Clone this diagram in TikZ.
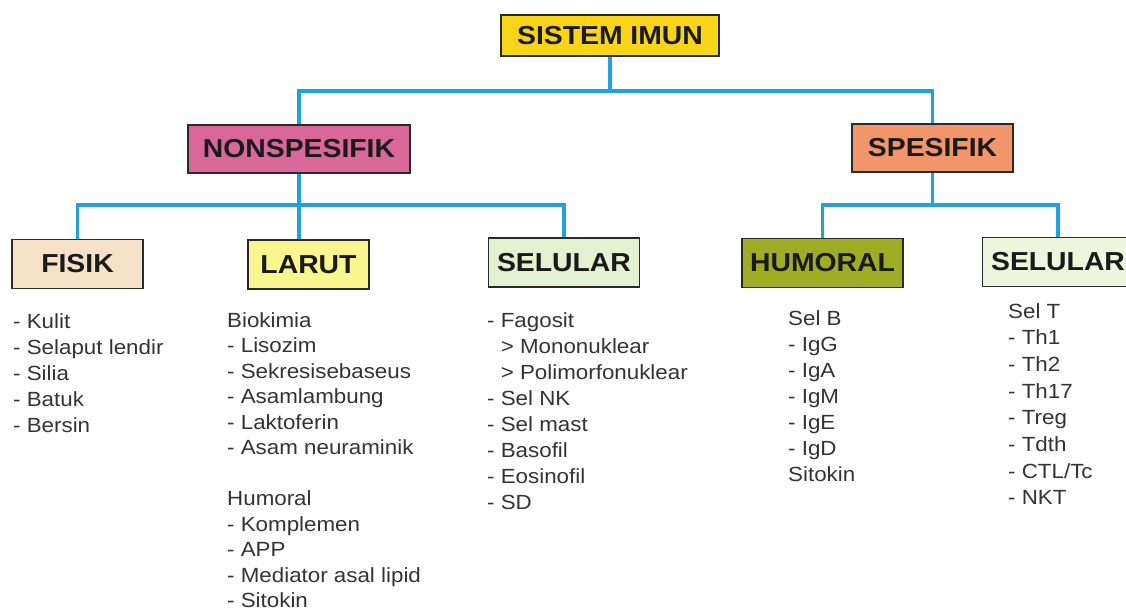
\documentclass[tikz,border=0pt]{standalone}
\usepackage{fontspec}
\setmainfont{Liberation Sans}
\newfontfamily\boxfont[FakeStretch=1.09]{Liberation Sans}
\newfontfamily\itemfont[FakeStretch=1.09]{Liberation Sans}
\usetikzlibrary{positioning, calc}
\definecolor{imun}{HTML}{F9D418}
\definecolor{nonspes}{HTML}{D9679A}
\definecolor{spes}{HTML}{F0966A}
\definecolor{fisik}{HTML}{F4E1C8}
\definecolor{larut}{HTML}{FAF68E}
\definecolor{selular}{HTML}{E3F1D0}
\definecolor{humoral}{HTML}{9EAD24}
\definecolor{selulart}{HTML}{EDF5DC}
\definecolor{linkblue}{HTML}{22A2DA}
\definecolor{boxline}{HTML}{2A2A2A}
\definecolor{titletext}{HTML}{1A1A1A}
\definecolor{itemtext}{HTML}{333333}

\begin{document}
\begin{tikzpicture}[x=1pt, y=-1pt,
		box/.style = {rectangle, draw=boxline, line width=1.4pt, text=titletext, font=\boxfont\fontsize{26}{30}\selectfont\bfseries, minimum height=49pt, inner sep=0pt},
		link/.style = {draw=linkblue, line width=3.8pt},
		items/.style = {anchor=north west, align=left, inner sep=0pt, text=itemtext, font=\itemfont\fontsize{20.5}{26}\selectfont},
	]
	\useasboundingbox (0,0) rectangle (1126,612);
	\begin{scope}
		\clip (0,0) rectangle (1126,612);

		% connectors
		\coordinate (barTop) at (0,91);
		\coordinate (barLow) at (0,205);

		% boxes
		\node[box, fill=imun, minimum width=218pt, minimum height=41pt] (IMUN) at (610,35.5) {SISTEM IMUN};
		\node[box, fill=nonspes, minimum width=222pt, minimum height=48pt] (NONSP) at (299,149) {NONSPESIFIK};
		\node[box, fill=spes, minimum width=161pt, minimum height=48pt] (SPES) at (932.5,148) {SPESIFIK};
		\node[box, fill=fisik, minimum width=131pt] (FISIK) at (77.5,264) {FISIK};
		\node[box, fill=larut, minimum width=121pt] (LARUT) at (308.5,264.5) {LARUT};
		\node[box, fill=selular, minimum width=151pt] (SELNS) at (564,262.5) {SELULAR};
		\node[box, fill=humoral, minimum width=161pt] (HUMOR) at (822.5,263) {HUMORAL};
		\node[box, fill=selulart, minimum width=151pt] (SELSP) at (1058,262) {SELULAR};

		\draw[link] (IMUN.south) -- (IMUN.south |- barTop);
		\draw[link] (NONSP.north) |- (SPES.north |- barTop) -- (SPES.north);
		\draw[link] (NONSP.south) -- (NONSP.south |- LARUT.north);
		\draw[link] (FISIK.north) |- (SELNS.north |- barLow) -- (SELNS.north);
		\draw[link] (SPES.south) -- (SPES.south |- barLow);
		\draw[link] (HUMOR.north) |- (SELSP.north |- barLow) -- (SELSP.north);

		% lists (top of first line = baseline - 15)
		\node[items] (FISIKlist) at (13,313) {- Kulit\\- Selaput lendir\\- Silia\\- Batuk\\- Bersin};
		\node[items, font=\itemfont\fontsize{20.5}{25.5}\selectfont] (LARUTlist) at (227,312) {Biokimia\\- Lisozim\\- Sekresisebaseus\\- Asamlambung\\- Laktoferin\\- Asam neuraminik\\[25.5pt]Humoral\\- Komplemen\\- APP\\- Mediator asal lipid\\- Sitokin};
		\node[items] (SELNSlist) at (487,312) {- Fagosit\\\phantom{- }> Mononuklear\\\phantom{- }> Polimorfonuklear\\- Sel NK\\- Sel mast\\- Basofil\\- Eosinofil\\- SD};
		\node[items] (HUMORlist) at (788,310) {Sel B\\- IgG\\- IgA\\- IgM\\- IgE\\- IgD\\Sitokin};
		\node[items, font=\itemfont\fontsize{20.5}{26.7}\selectfont] (SELSPlist) at (1008,303) {Sel T\\- Th1\\- Th2\\- Th17\\- Treg\\- Tdth\\- CTL/Tc\\- NKT};
	\end{scope}
\end{tikzpicture}
\end{document}
